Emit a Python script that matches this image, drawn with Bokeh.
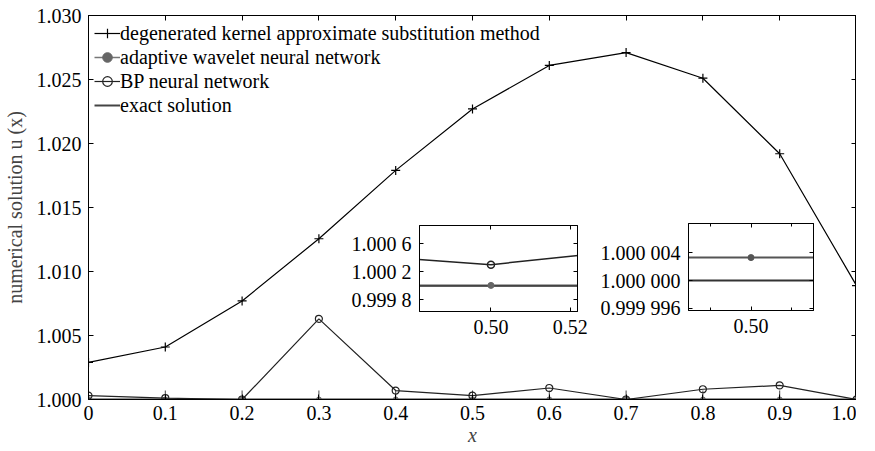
from bokeh.plotting import figure
from bokeh.models import LinearAxis, FixedTicker, Range1d, Legend, LegendItem, Column
from bokeh.embed import file_html
from bokeh.resources import INLINE

# ---------------- data ----------------
x_vals = [0.0, 0.1, 0.2, 0.3, 0.4, 0.5, 0.6, 0.7, 0.8, 0.9, 1.0]
degenerated = [1.0029, 1.0041, 1.0077, 1.01256, 1.0179, 1.0227, 1.0261, 1.0271, 1.0251, 1.0192, 1.0089]
bp_network = [1.0003, 1.0001, 1.0000, 1.0063, 1.0007, 1.0003, 1.0009, 1.0000, 1.0008, 1.0011, 1.0000]
wavelet = [1.0000033, 1.0000033, 1.0000033, 1.0000033, 1.0000033, 1.0000033,
           1.0000033, 1.0000033, 1.0000033, 1.0000033, 1.0000033]
exact = [1.0, 1.0, 1.0, 1.0, 1.0, 1.0, 1.0, 1.0, 1.0, 1.0, 1.0]

x_ticks = [0.0, 0.1, 0.2, 0.3, 0.4, 0.5, 0.6, 0.7, 0.8, 0.9, 1.0]
x_tick_labels = ["0", "0.1", "0.2", "0.3", "0.4", "0.5", "0.6", "0.7", "0.8", "0.9", "1.0"]
y_ticks = [1.000, 1.005, 1.010, 1.015, 1.020, 1.025, 1.030]
y_tick_labels = ["1.000", "1.005", "1.010", "1.015", "1.020", "1.025", "1.030"]

inset1_x_domain = (0.482, 0.5218)
inset1_y_domain = (0.99963, 1.00086)
inset1_x_ticks = [0.50, 0.52]
inset1_x_labels = ["0.50", "0.52"]
inset1_y_ticks = [0.9998, 1.0002, 1.0006]
inset1_y_labels = ["0.999 8", "1.000 2", "1.000 6"]

inset2_x_domain = (0.4922, 0.5078)
inset2_y_domain = (0.9999957, 1.0000082)
inset2_x_ticks = [0.50]
inset2_x_labels = ["0.50"]
inset2_x_minor = [0.495, 0.505]
inset2_y_ticks = [0.999996, 1.000000, 1.000004]
inset2_y_labels = ["0.999 996", "1.000 000", "1.000 004"]

FONT = "Liberation Serif"


def style_axis(ax, ticks, labels=None, show=True, tick_len=5, minor=None):
    ax.ticker = FixedTicker(ticks=ticks, minor_ticks=minor or [])
    ax.major_tick_in = tick_len
    ax.major_tick_out = 0
    ax.minor_tick_in = 3 if minor else 0
    ax.minor_tick_out = 0
    ax.axis_line_color = "black"
    ax.major_tick_line_color = "black"
    ax.minor_tick_line_color = "black"
    ax.major_label_text_font = FONT
    ax.major_label_text_color = "black"
    if show:
        ax.major_label_text_font_size = "20px"
        if labels:
            ax.major_label_overrides = dict(zip(ticks, labels))
    else:
        ax.major_label_text_font_size = "1px"
        ax.major_label_text_alpha = 0
        ax.major_label_standoff = 0


# ---------------- main figure ----------------
p = figure(frame_width=768, frame_height=384, x_range=Range1d(0, 1), y_range=Range1d(1.0, 1.03),
           output_backend="svg", toolbar_location=None,
           min_border_left=89, min_border_right=5, min_border_top=15, min_border_bottom=49)
p.xgrid.visible = False
p.ygrid.visible = False
p.outline_line_color = "black"
p.background_fill_color = "white"

xa = p.xaxis[0]
style_axis(xa, x_ticks, x_tick_labels)
xa.major_label_standoff = 6
xa.axis_label = "x"
xa.axis_label_text_font = FONT
xa.axis_label_text_font_style = "italic"
xa.axis_label_text_font_size = "20px"
xa.axis_label_standoff = 1

ya = p.yaxis[0]
style_axis(ya, y_ticks, y_tick_labels)
ya.major_label_standoff = 7
ya.axis_label = "numerical solution u (x)"
ya.axis_label_text_font = FONT
ya.axis_label_text_font_style = "normal"
ya.axis_label_text_font_size = "20px"
ya.axis_label_standoff = 8

top_ax = LinearAxis()
style_axis(top_ax, x_ticks, show=False)
p.add_layout(top_ax, "above")
right_ax = LinearAxis()
style_axis(right_ax, y_ticks, show=False)
p.add_layout(right_ax, "right")

r_exact = p.line(x_vals, exact, line_color="#444444", line_width=2)
p.scatter(x_vals, exact, marker="cross", size=18, line_color="#444444", line_width=1)
r_wav_l = p.line(x_vals, wavelet, line_color="#777777", line_width=1.5)
r_wav_s = p.scatter(x_vals, wavelet, marker="circle", size=5, fill_color="#666666", line_color="#666666")
r_bp_l = p.line(x_vals, bp_network, line_color="#222222", line_width=1.2)
r_bp_s = p.scatter(x_vals, bp_network, marker="circle", size=7, fill_color=None, line_color="#222222", line_width=1.2)
r_dg_l = p.line(x_vals, degenerated, line_color="black", line_width=1.2)
r_dg_s = p.scatter(x_vals, degenerated, marker="cross", size=9, line_color="black", line_width=1.2)

legend = Legend(items=[
    LegendItem(label="degenerated kernel approximate substitution method", renderers=[r_dg_l, r_dg_s]),
    LegendItem(label="adaptive wavelet neural network", renderers=[r_wav_l, r_wav_s]),
    LegendItem(label="BP neural network", renderers=[r_bp_l, r_bp_s]),
    LegendItem(label="exact solution", renderers=[r_exact]),
], location="top_left")
legend.border_line_alpha = 0
legend.background_fill_alpha = 0
legend.margin = 0
legend.padding = 6
legend.spacing = 0
legend.label_height = 24
legend.glyph_height = 24
legend.glyph_width = 26
legend.label_standoff = 0
legend.label_text_font = FONT
legend.label_text_font_size = "20px"
legend.label_text_color = "black"
p.add_layout(legend)
p.styles = {"position": "absolute", "left": "-6px", "top": "0px"}


# ---------------- insets ----------------
def make_inset(xd, yd, fw, fh, bl, br, bt, bb, left, top,
               xt, xl, yt, yl, xminor=None):
    f = figure(frame_width=fw, frame_height=fh,
               x_range=Range1d(*xd), y_range=Range1d(*yd),
               output_backend="svg", toolbar_location=None,
               min_border_left=bl, min_border_right=br, min_border_top=bt, min_border_bottom=bb)
    f.xgrid.visible = False
    f.ygrid.visible = False
    f.outline_line_color = "black"
    f.background_fill_color = "white"
    f.border_fill_alpha = 0
    style_axis(f.xaxis[0], xt, xl, tick_len=4, minor=xminor)
    f.xaxis[0].major_label_standoff = 8
    style_axis(f.yaxis[0], yt, yl, tick_len=4)
    f.yaxis[0].major_label_standoff = 8
    ta = LinearAxis()
    style_axis(ta, xt, show=False, tick_len=4, minor=xminor)
    f.add_layout(ta, "above")
    ra = LinearAxis()
    style_axis(ra, yt, show=False, tick_len=4)
    f.add_layout(ra, "right")
    f.styles = {"position": "absolute", "left": f"{left}px", "top": f"{top}px"}
    return f


in1 = make_inset(inset1_x_domain, inset1_y_domain, 158, 86, 94, 25, 5, 32, 325, 220,
                 inset1_x_ticks, inset1_x_labels, inset1_y_ticks, inset1_y_labels)
in1.line(x_vals, exact, line_color="#333333", line_width=2)
in1.line(x_vals, wavelet, line_color="#444444", line_width=1.5)
in1.scatter(x_vals, wavelet, marker="circle", size=6, fill_color="#666666", line_color="#666666")
in1.line(x_vals, bp_network, line_color="#222222", line_width=1.5)
in1.scatter(x_vals, bp_network, marker="circle", size=7, fill_color=None, line_color="#222222", line_width=1.5)

in2 = make_inset(inset2_x_domain, inset2_y_domain, 125, 87, 92, 10, 5, 32, 594, 218,
                 inset2_x_ticks, inset2_x_labels, inset2_y_ticks, inset2_y_labels,
                 xminor=inset2_x_minor)
in2.line(x_vals, exact, line_color="#333333", line_width=2)
in2.line(x_vals, wavelet, line_color="#555555", line_width=2)
in2.scatter(x_vals, wavelet, marker="circle", size=6, fill_color="#555555", line_color="#555555")

root = Column(children=[p, in1, in2],
              styles={"position": "relative", "overflow": "hidden", "width": "875px", "height": "451px"})

open("out.html", "w").write(file_html(root, INLINE))
